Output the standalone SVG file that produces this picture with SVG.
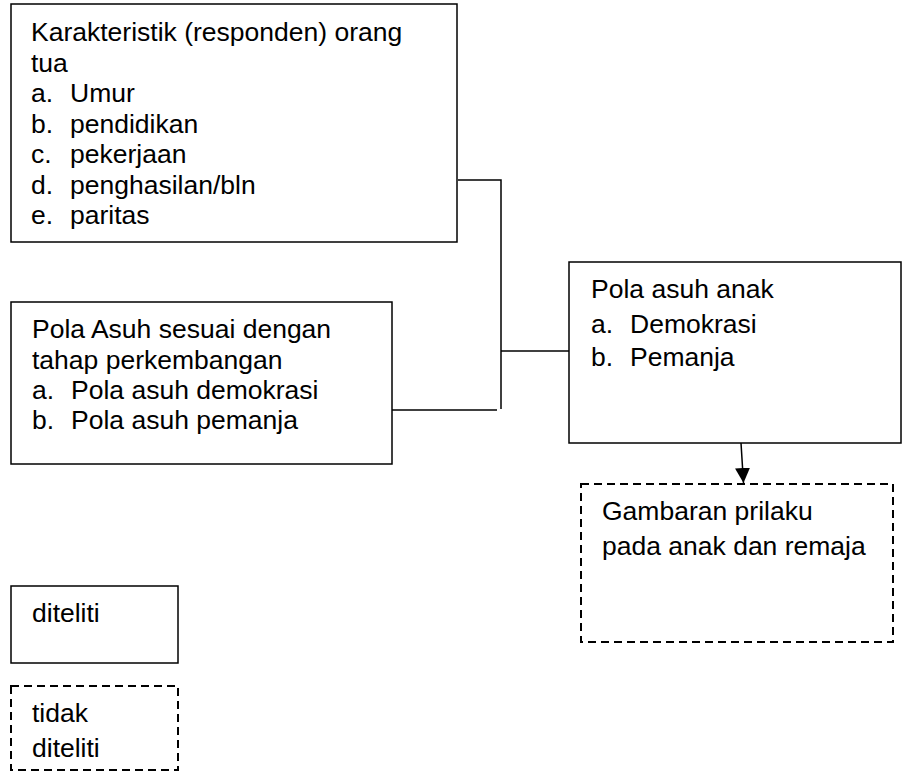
<svg xmlns="http://www.w3.org/2000/svg" width="902" height="771" viewBox="0 0 902 771">
<defs>
<style>
text{font-family:"Liberation Sans",Arial,sans-serif;font-size:26.5px;fill:#000}
.box{fill:#fff;stroke:#000;stroke-width:1.5}
.dash{fill:#fff;stroke:#000;stroke-width:2;stroke-dasharray:8 5}
.ln{fill:none;stroke:#000;stroke-width:1.5}
</style>
<marker id="arr" markerWidth="16" markerHeight="16" refX="15" refY="7.5" orient="auto" markerUnits="userSpaceOnUse">
<path d="M0,0 L15,7.5 L0,15 Z" fill="#000"/>
</marker>
</defs>
<rect width="902" height="771" fill="#fff"/>
<g id="connectors">
<polyline class="ln" points="458,180 501,180 501,409"/>
<line class="ln" x1="392" y1="410" x2="497" y2="410"/>
<line class="ln" x1="501" y1="351" x2="569" y2="351"/>
<line class="ln" x1="741" y1="443" x2="743.5" y2="483" marker-end="url(#arr)"/>
</g>
<g id="karakteristik">
<rect class="box" x="11" y="4" width="446" height="238"/>
<text x="31" y="41">Karakteristik (responden) orang</text>
<text x="31" y="71.5">tua</text>
<text x="31" y="102">a.</text><text x="70" y="102">Umur</text>
<text x="31" y="132.5">b.</text><text x="70" y="132.5">pendidikan</text>
<text x="31" y="163">c.</text><text x="70" y="163">pekerjaan</text>
<text x="31" y="194">d.</text><text x="70" y="194">penghasilan/bln</text>
<text x="31" y="224">e.</text><text x="70" y="224">paritas</text>
</g>
<g id="pola-asuh-tahap">
<rect class="box" x="11" y="302" width="381" height="162"/>
<text x="32" y="338">Pola Asuh sesuai dengan</text>
<text x="32" y="368.5">tahap perkembangan</text>
<text x="32" y="399">a.</text><text x="71" y="399">Pola asuh demokrasi</text>
<text x="32" y="429">b.</text><text x="71" y="429">Pola asuh pemanja</text>
</g>
<g id="pola-asuh-anak">
<rect class="box" x="569" y="262" width="332" height="181"/>
<text x="591" y="298">Pola asuh anak</text>
<text x="591" y="333">a.</text><text x="630" y="333">Demokrasi</text>
<text x="591" y="366">b.</text><text x="630" y="366">Pemanja</text>
</g>
<g id="gambaran">
<rect class="dash" x="581" y="484" width="312" height="158"/>
<text x="602" y="520">Gambaran prilaku</text>
<text x="602" y="555">pada anak dan remaja</text>
</g>
<g id="legend-diteliti">
<rect class="box" x="11" y="586" width="167" height="77"/>
<text x="32" y="622">diteliti</text>
</g>
<g id="legend-tidak">
<rect class="dash" x="11" y="686" width="167" height="84"/>
<text x="32" y="722">tidak</text>
<text x="32" y="757">diteliti</text>
</g>
</svg>
